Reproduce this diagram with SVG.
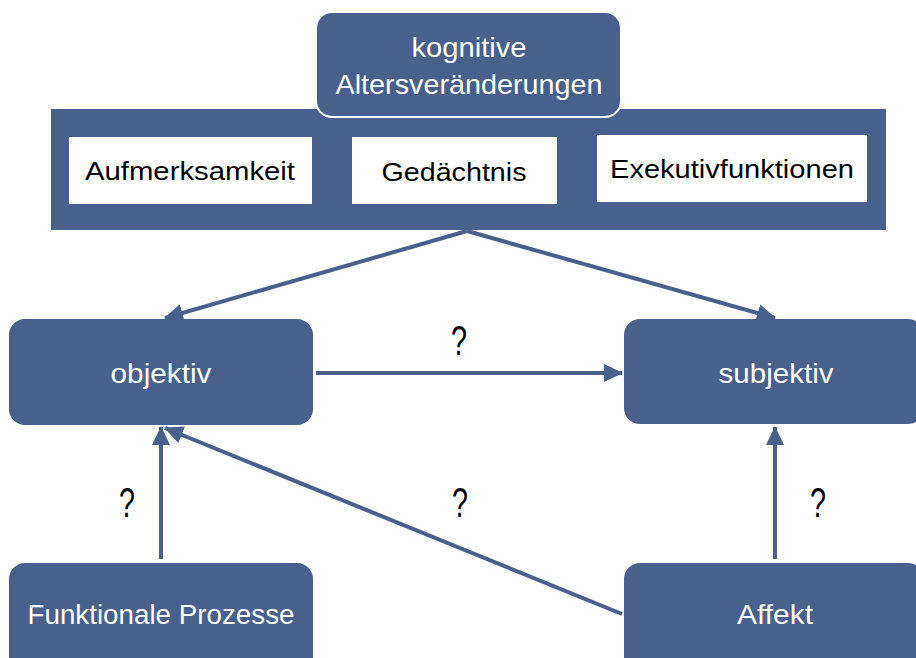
<svg xmlns="http://www.w3.org/2000/svg" width="916" height="658" viewBox="0 0 916 658">
  <style>
    .node { fill: #48608b; }
    .box { fill: #ffffff; }
    .lbl { font-family: "Liberation Sans", Arial, sans-serif; font-size: 28px; fill: #ffffff; text-anchor: middle; }
    .dark { fill: #000000; font-size: 26px; }
    .q { font-family: "Liberation Sans", Arial, sans-serif; font-size: 42px; fill: #000000; text-anchor: middle; }
    .edge { stroke: #48608b; stroke-width: 4; fill: none; marker-end: url(#head); }
  </style>
  <defs>
    <marker id="head" markerUnits="userSpaceOnUse" markerWidth="20" markerHeight="20" viewBox="0 0 20 20" refX="18" refY="10" orient="auto">
      <path d="M0,1 L19,10 L0,19 Z" fill="#48608b"/>
    </marker>
  </defs>

  <rect width="916" height="658" fill="#ffffff"/>

  <!-- band of cognitive domains -->
  <g id="domains">
    <rect class="node" x="51" y="109" width="835" height="121"/>
    <g id="aufmerksamkeit">
      <rect class="box" x="69" y="137" width="243" height="67"/>
      <text class="lbl dark" x="190" y="180" textLength="210" lengthAdjust="spacingAndGlyphs">Aufmerksamkeit</text>
    </g>
    <g id="gedaechtnis">
      <rect class="box" x="352" y="137" width="205" height="67"/>
      <text class="lbl dark" x="454" y="181" textLength="145" lengthAdjust="spacingAndGlyphs">Gedächtnis</text>
    </g>
    <g id="exekutiv">
      <rect class="box" x="597" y="135" width="270" height="67"/>
      <text class="lbl dark" x="732" y="178" textLength="244" lengthAdjust="spacingAndGlyphs">Exekutivfunktionen</text>
    </g>
  </g>

  <g id="kognitive">
    <rect class="node" x="316" y="12" width="305" height="105" rx="16" stroke="#ffffff" stroke-width="2"/>
    <text class="lbl" x="469" y="57" font-size="29" textLength="115" lengthAdjust="spacingAndGlyphs">kognitive</text>
    <text class="lbl" x="469" y="94" font-size="29" textLength="267" lengthAdjust="spacingAndGlyphs">Altersveränderungen</text>
  </g>

  <g id="objektiv">
    <rect class="node" x="9" y="319" width="304" height="106" rx="16"/>
    <text class="lbl" x="161" y="383" textLength="101" lengthAdjust="spacingAndGlyphs">objektiv</text>
  </g>

  <g id="subjektiv">
    <rect class="node" x="624" y="319" width="300" height="105" rx="16"/>
    <text class="lbl" x="776" y="383" textLength="115" lengthAdjust="spacingAndGlyphs">subjektiv</text>
  </g>

  <g id="funktionale">
    <rect class="node" x="9" y="563" width="304" height="110" rx="16"/>
    <text class="lbl" x="161" y="624" textLength="267" lengthAdjust="spacingAndGlyphs">Funktionale Prozesse</text>
  </g>

  <g id="affekt">
    <rect class="node" x="624" y="563" width="300" height="110" rx="16"/>
    <text class="lbl" x="775" y="624" textLength="76" lengthAdjust="spacingAndGlyphs">Affekt</text>
  </g>

  <!-- connectors -->
  <g id="connectors">
    <line class="edge" x1="467" y1="231" x2="165" y2="318"/>
    <line class="edge" x1="467" y1="231" x2="775" y2="318"/>
    <line class="edge" x1="316" y1="373" x2="622" y2="373"/>
    <line class="edge" x1="161" y1="559" x2="161" y2="427"/>
    <line class="edge" x1="622" y1="614" x2="165" y2="428"/>
    <line class="edge" x1="775" y1="559" x2="775" y2="427"/>
  </g>

  <!-- question marks on the links -->
  <g id="labels">
    <text class="q" x="459" y="355" textLength="16" lengthAdjust="spacingAndGlyphs">?</text>
    <text class="q" x="127" y="517" textLength="16" lengthAdjust="spacingAndGlyphs">?</text>
    <text class="q" x="460" y="517" textLength="16" lengthAdjust="spacingAndGlyphs">?</text>
    <text class="q" x="818" y="517" textLength="16" lengthAdjust="spacingAndGlyphs">?</text>
  </g>
</svg>
